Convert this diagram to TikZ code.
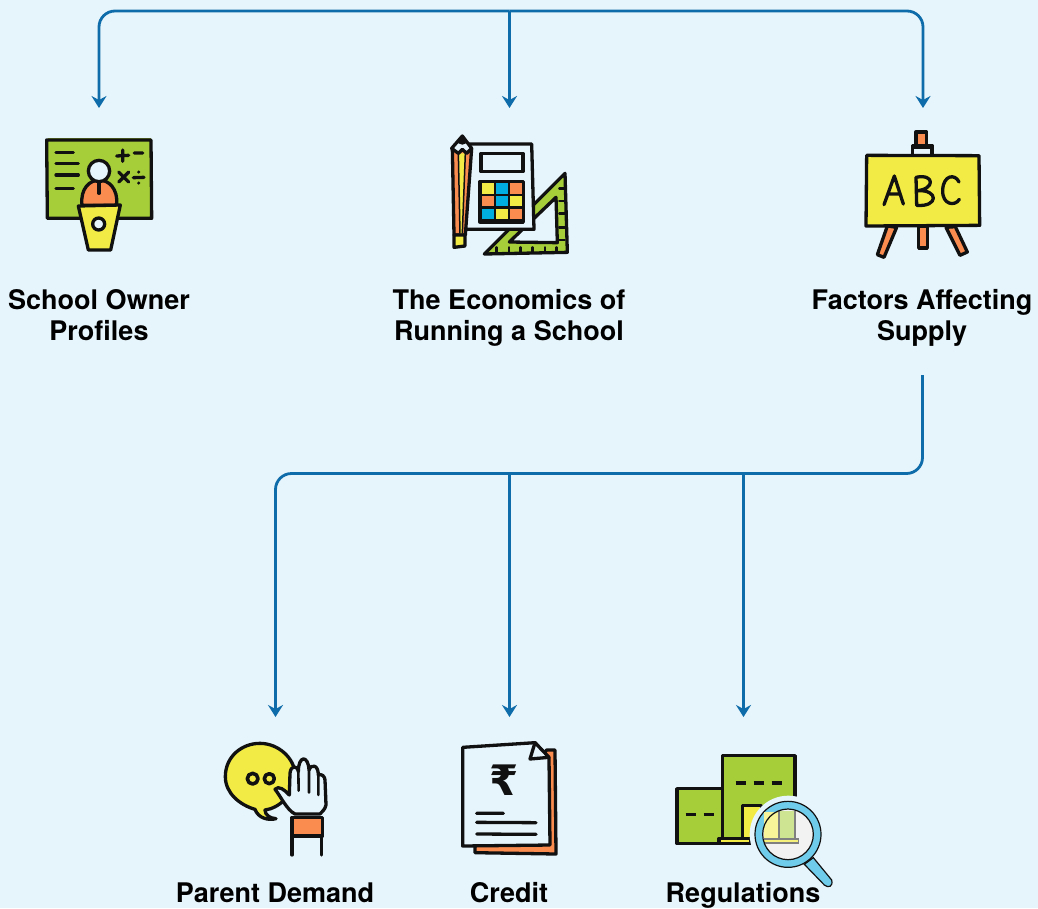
\documentclass[tikz,border=0pt]{standalone}
\usepackage{fontspec}
\setmainfont{TeX Gyre Heros}
\usetikzlibrary{arrows.meta}
\definecolor{bgc}{HTML}{E6F5FB}
\definecolor{linec}{HTML}{0F6CAB}
\definecolor{grn}{HTML}{A6CE39}
\definecolor{yel}{HTML}{F2EA45}
\definecolor{org}{HTML}{FB8C4F}
\definecolor{cyn}{HTML}{00AEDF}
\definecolor{lens}{HTML}{6FCDEB}
\definecolor{ink}{HTML}{111111}
\tikzset{
 conn/.style={draw=linec,line width=2.8pt,rounded corners=16pt},
 arr/.style={conn,-{Stealth[length=12pt,width=15pt,inset=4pt]}},
 lab/.style={font=\bfseries\fontsize{27}{31}\selectfont,align=center,text=black,inner sep=0pt},
 ik/.style={draw=ink,line width=3.3pt,line join=round,line cap=round},
 ikt/.style={draw=ink,line width=2.6pt,line join=round,line cap=round},
 zoomed/.style={x=0.33333pt,y=-0.33333pt},
}
\begin{document}
\begin{tikzpicture}[x=1pt,y=-1pt]
\useasboundingbox[fill=bgc] (0,0) rectangle (1038,908);
% labels
\node[lab] (l1) at (99,318.5) {\strut School Owner\\\strut Profiles};
\node[lab] (l2) at (509,318.5) {\strut The Economics of\\\strut Running a School};
\node[lab] (l3) at (922,318.5) {\strut Factors Affecting\\\strut Supply};
\node[lab,anchor=base] (l4) at (275,902) {Parent Demand};
\node[lab,anchor=base] (l5) at (509,902) {Credit};
\node[lab,anchor=base] (l6) at (743,902) {Regulations};
% connectors
\coordinate (top) at (509.5,11);
\coordinate (a1) at (99,108);
\coordinate (a2) at (509.5,108);
\coordinate (a3) at (923,108);
\coordinate (s2) at (922.5,375);
\coordinate (b1) at (275.5,717);
\coordinate (b2) at (509.5,717);
\coordinate (b3) at (743.5,717);
\coordinate (j2) at (509.5,473.5);
\coordinate (j3) at (743.5,473.5);
\draw[arr] (top) -| (a1);
\draw[arr] (top) -- (a2);
\draw[arr] (top) -| (a3);
\draw[arr] (s2) |- (j2) -| (b1);
\draw[arr] (j2) -- (b2);
\draw[arr] (j3) -- (b3);
% icon 1
\begin{scope}[shift={(20,120)},zoomed]
\fill[grn] (85,55) rectangle (392,300);
\draw[ik] (80,60) -- (393,60) -- (395,295) -- (82,295) -- cycle;
\foreach \a/\b/\c in {108/160/98,108/175/130,108/175/165,108/160/205}
  \draw[ik] (\a,\c) -- (\b,\c);
\draw[ik] (290,108) -- (326,106) (308,90) -- (308,124) (343,99) -- (368,99);
\draw[ik] (296,156) -- (326,186) (326,156) -- (296,186) (340,173) -- (372,172);
\fill[ink] (356,156) circle (5) (356,189) circle (5);
\draw[ik,fill=org] (186,256) .. controls (180,205) and (210,180) .. (238,180) .. controls (265,180) and (295,205) .. (290,256) -- cycle;
\draw[ik,fill=bgc] (237,153) circle (32);
\draw[ik] (237,188) -- (237,220);
\draw[ik,fill=yel] (175,258) -- (301,255) -- (272,390) -- (205,390) -- cycle;
\draw[ik,fill=bgc] (236,312) circle (18);
\end{scope}
% icon 2
\begin{scope}[shift={(430,120)},zoomed]
\draw[ik,fill=grn] (163,402) -- (405,160) -- (412,397) -- cycle;
\fill[bgc] (238,366) -- (378,232) -- (382,368) -- cycle;
\draw[ik] (238,366) -- (378,232) -- (382,368) -- cycle;
\foreach \y in {205,243,281,322,360} \draw[ikt] (388,\y) -- (404,\y);
\foreach \x in {200,237,272,308,345,380} \draw[ikt] (\x,382) -- (\x,398);
\draw[ik,fill=bgc] (105,72) -- (305,72) -- (312,328) -- (105,328) -- cycle;
\draw[ik,fill=none] (153,100) rectangle (279,155);
\draw[ik,fill=ink] (150,184) rectangle (280,306);
\foreach \x/\y/\c in {157/190/yel,199/190/cyn,240/190/org,157/228/org,199/228/cyn,240/228/yel,157/267/cyn,199/267/yel,240/267/org}
  \fill[\c] (\x,\y) rectangle ++(35,31);
\draw[ik,fill=org] (67,85) -- (125,85) -- (106,345) -- (72,345) -- cycle;
\fill[yel] (85,100) -- (106,100) -- (97,340) -- (90,340) -- cycle;
\draw[ink,line width=1.5pt] (85,100) -- (90,340) (106,100) -- (97,340);
\draw[ik,fill=bgc] (65,85) -- (97,48) -- (125,85) -- (110,100) -- (97,88) -- (85,100) -- cycle;
\fill[ink] (80,68) -- (97,46) -- (114,68) -- (97,74) -- cycle;
\draw[ik,fill=yel] (72,345) -- (105,345) -- (105,378) -- (72,382) -- cycle;
\end{scope}
% icon 3
\begin{scope}[shift={(850,120)},zoomed]
\draw[ik,fill=org] (198,36) rectangle (230,80);
\draw[ik,fill=bgc] (188,76) rectangle (246,108);
\fill[ink] (190,80) rectangle (245,88);
\draw[ik,fill=org] (206,320) rectangle (232,384);
\draw[ik,fill=org] (112,318) -- (140,322) -- (102,412) -- (82,404) -- cycle;
\draw[ik,fill=org] (288,322) -- (316,320) -- (352,396) -- (330,406) -- cycle;
\draw[ik,fill=yel] (50,106) -- (387,107) -- (389,316) -- (48,318) -- cycle;
\draw[ik] (102,254) -- (133,168) -- (160,252) (113,222) -- (150,222);
\draw[ik] (198,172) -- (200,256) (198,172) .. controls (255,160) and (255,208) .. (201,212) .. controls (268,208) and (265,262) .. (200,256);
\draw[ik] (327,186) .. controls (315,160) and (280,165) .. (278,210) .. controls (276,255) and (315,260) .. (328,238);
\end{scope}
% icon 4
\begin{scope}[shift={(210,730)},zoomed]
\draw[ik,fill=yel] (135,238) .. controls (90,225) and (46,190) .. (46,140) .. controls (46,80) and (95,40) .. (150,40) .. controls (205,40) and (255,85) .. (255,135) .. controls (255,195) and (205,235) .. (165,240) .. controls (165,255) and (180,265) .. (198,266) .. controls (175,272) and (145,265) .. (135,238) -- cycle;
\draw[ik,line width=3.6pt] (128,146) circle (16);
\draw[ik,line width=3.6pt] (178,146) circle (15);
\draw[ik,fill=bgc] (255,252) .. controls (230,240) and (210,195) .. (195,178) .. controls (205,165) and (225,180) .. (238,195) -- (240,130) .. controls (242,105) and (262,105) .. (265,125) .. controls (265,75) and (295,75) .. (297,120) .. controls (305,100) and (325,105) .. (325,135) .. controls (335,130) and (345,140) .. (345,150) -- (348,225) .. controls (345,240) and (335,245) .. (330,252) -- cycle;
\draw[ikt] (265,125) -- (266,182) (297,120) -- (297,188) (325,135) -- (325,195);
\draw[ik,fill=org] (246,262) rectangle (338,318);
\draw[ik] (246,318) -- (246,375) (335,318) -- (335,375);
\end{scope}
% icon 5
\begin{scope}[shift={(450,730)},zoomed]
\draw[ik,fill=org] (75,345) -- (75,368) -- (318,372) -- (315,60) -- (290,60) -- cycle;
\draw[ik,fill=bgc] (38,52) -- (255,38) -- (297,84) -- (300,345) -- (38,348) -- cycle;
\draw[ik,fill=bgc] (255,38) -- (240,87) -- (297,82) -- cycle;
\node[text=ink,inner sep=0pt] (rupee) at (163,150) {\fontspec{DejaVu Sans}\fontsize{42}{42}\selectfont\bfseries ₹};
\draw[ik] (80,250) -- (160,250) (80,277) -- (258,278) (80,312) -- (258,313);
\end{scope}
% icon 6
\begin{scope}[shift={(665,745)},zoomed]
\draw[ik,fill=grn,line cap=butt] (36,131) rectangle (174,296);
\draw[ik,fill=grn,line cap=butt] (173,32) rectangle (390,290);
\draw[ik,dash pattern=on 10pt off 8pt,line cap=butt] (212,114) -- (352,114);
\draw[ik,dash pattern=on 10pt off 8pt,line cap=butt] (62,208) -- (150,208);
\draw[ik,fill=yel,line cap=butt] (232,181) rectangle (290,280);
\draw[ik,fill=yel,line cap=butt] (162,280) rectangle (258,296);
\fill[bgc] (370,268) circle (116);
\fill[bgc] (258,300) rectangle (400,400);
\fill[bgc] (395,160) rectangle (500,300);
\draw[ink,line width=1.2pt,fill=lens] (418,358) -- (445,338) -- (500,405) .. controls (505,425) and (490,430) .. (478,420) -- cycle;
\draw[ink,line width=1.2pt,fill=lens] (369,268) circle (99);
\fill[black!5!white] (369,268) circle (76);
\fill[yel!55!white] (297,200) rectangle (342,282);
\fill[grn!55!white] (345,198) rectangle (390,282);
\fill[yel!70!white] (297,282) rectangle (400,294);
\draw[gray,line width=1.6pt] (342,198) -- (342,282) (390,198) -- (390,282) (297,294) -- (400,294) -- (400,282) -- (297,282);
\draw[ink,line width=1.2pt] (369,268) circle (76);
\end{scope}
\end{tikzpicture}
\end{document}
